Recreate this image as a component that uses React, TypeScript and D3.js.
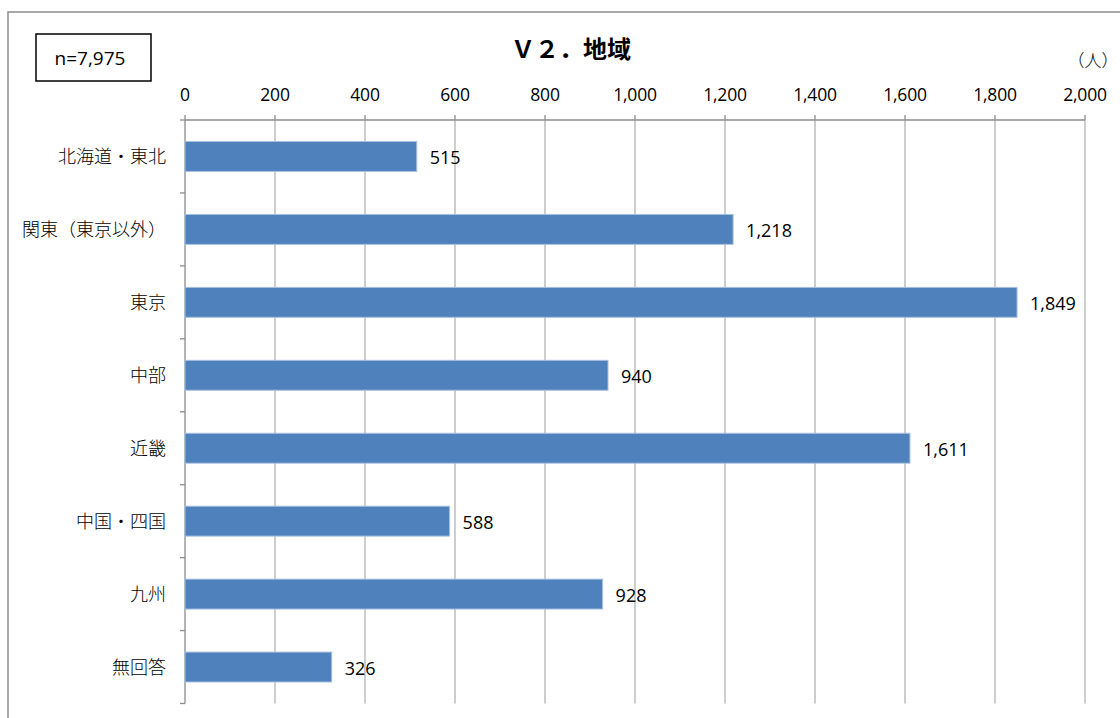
import React from "react";
import * as d3 from "d3";

const categories = ["北海道・東北", "関東（東京以外）", "東京", "中部", "近畿", "中国・四国", "九州", "無回答"];
const values = [515, 1218, 1849, 940, 1611, 588, 928, 326];
const xTicks = [0, 200, 400, 600, 800, 1000, 1200, 1400, 1600, 1800, 2000];
const title = "Ｖ２．地域";
const unitLabel = "（人）";
const nLabel = "n=7,975";

export default function App() {
  const W = 1120, H = 718;
  const left = 185, right = 1085, top = 120, bottom = 703.5;
  const x = d3.scaleLinear().domain([0, 2000]).range([left, right]);
  const y = d3.scaleBand<string>().domain(categories).range([top, bottom]).paddingInner(0.59).paddingOuter(0.295);
  const band = (bottom - top) / categories.length;
  const fmt = d3.format(",");
  const numFont = "'Open Sans', 'Noto Sans', sans-serif";
  const cjkFont = "'Noto Sans CJK JP', sans-serif";
  return (
    <svg width={W} height={H} style={{ position: "absolute", left: 0, top: 0, background: "#fff" }}>
      <rect x={8} y={12} width={W + 20} height={H + 20} fill="#fff" stroke="#8c8c8c" strokeWidth={1.5} />
      <rect x={36} y={34} width={115} height={47} fill="#fff" stroke="#000" strokeWidth={1.5} />
      <text x={90} y={64.5} textAnchor="middle" fontFamily={numFont} fontSize={19} fill="#000">{nLabel}</text>
      <text x={571} y={58} textAnchor="middle" fontFamily={cjkFont} fontWeight="bold" fontSize={24} fill="#000">{title}</text>
      <text x={1093} y={67} textAnchor="middle" fontFamily={cjkFont} fontWeight={300} fontSize={17} fill="#000">{unitLabel}</text>
      {xTicks.map((t) => (
        <g key={t}>
          {t > 0 && <line x1={x(t)} x2={x(t)} y1={120} y2={bottom} stroke="#b3b3b3" strokeWidth={1.3} />}
          <line x1={x(t)} x2={x(t)} y1={115} y2={120} stroke="#8c8c8c" strokeWidth={1.3} />
          <text x={x(t)} y={100.5} textAnchor="middle" fontFamily={numFont} fontSize={17.5} fill="#000" letterSpacing={-0.2}>{fmt(t)}</text>
        </g>
      ))}
      <line x1={left} x2={right} y1={120} y2={120} stroke="#8c8c8c" strokeWidth={1.3} />
      <line x1={left} x2={left} y1={120} y2={bottom} stroke="#8c8c8c" strokeWidth={1.3} />
      {d3.range(categories.length + 1).map((i) => (
        <line key={i} x1={180} x2={left} y1={top + i * band} y2={top + i * band} stroke="#8c8c8c" strokeWidth={1.3} />
      ))}
      {categories.map((c, i) => {
        const yy = y(c)!;
        const h = y.bandwidth();
        return (
          <g key={c}>
            <rect x={x(0)} y={yy} width={x(values[i]) - x(0)} height={h} fill="#4f81bd" stroke="#a7c0de" strokeWidth={1} />
            <text x={x(values[i]) + 13} y={yy + h / 2 + 7.5} fontFamily={numFont} fontSize={18} fill="#000">{fmt(values[i])}</text>
            <text x={166} y={top + (i + 0.5) * band + 6.5} textAnchor="end" fontFamily={cjkFont} fontWeight={300} fontSize={18} fill="#000">{c}</text>
          </g>
        );
      })}
    </svg>
  );
}
